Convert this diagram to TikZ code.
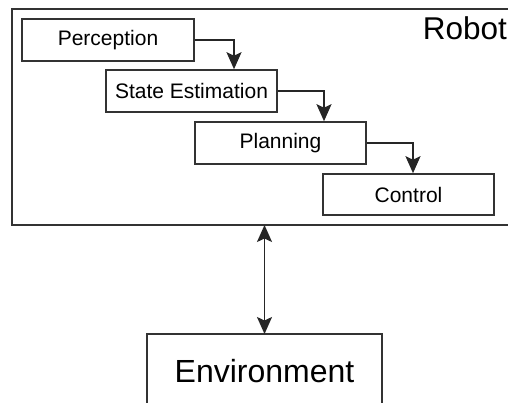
\documentclass[tikz,border=0pt]{standalone}
\usepackage{fontspec}
\setmainfont{Liberation Sans}
\usetikzlibrary{arrows.meta}
\begin{document}
\begin{tikzpicture}[x=1pt,y=-1pt,
  line width=1.6pt,
  tip/.tip={Stealth[length=17pt,width=15pt,inset=3.5pt]},
  stage/.style={draw=black!80, line width=1.6pt, minimum height=42pt, minimum width=171pt,
    inner sep=0pt, font=\fontsize{21}{25}\selectfont},
  flow/.style={draw=black!85, line width=1.6pt, -tip},
  link/.style={draw=black!85, line width=1.6pt, tip-tip},
  frame/.style={draw=black!80, line width=1.8pt}]
  \useasboundingbox (0,0) rectangle (508,403);
  \clip (0,0) rectangle (508,403);
  \fill[white] (0,0) rectangle (508,403);

  % robot enclosure and the outside world
  \draw[frame] (12,9) rectangle (530,225);
  \node[anchor=base west, inner sep=0pt, font=\fontsize{31.5}{36}\selectfont] (robot) at (422,40) {Robot};
  \coordinate (robotbottom) at (264.5,225);

  \draw[frame] (147,334) rectangle (382,440);
  \coordinate (envtop) at (264.5,334);
  \node[anchor=base, inner sep=0pt, font=\fontsize{32}{38}\selectfont] (env) at (264.5,382) {Environment};

  % processing pipeline
  \node[stage, minimum width=172pt] (perc) at (108,40) {Perception};
  \node[stage] (state) at (191.5,91) {State Estimation};
  \node[stage] (plan) at (280.5,143) {Planning};
  \node[stage, minimum height=41pt] (ctrl) at (408.5,194.5) {Control};

  \coordinate (d1) at (234,0);
  \coordinate (d2) at (324,0);
  \coordinate (d3) at (413,0);

  \draw[flow] (perc.east) -| (state.north -| d1);
  \draw[flow] (state.east) -| (plan.north -| d2);
  \draw[flow] (plan.east) -| (ctrl.north -| d3);

  \draw[link] (robotbottom) -- (envtop);
\end{tikzpicture}
\end{document}
